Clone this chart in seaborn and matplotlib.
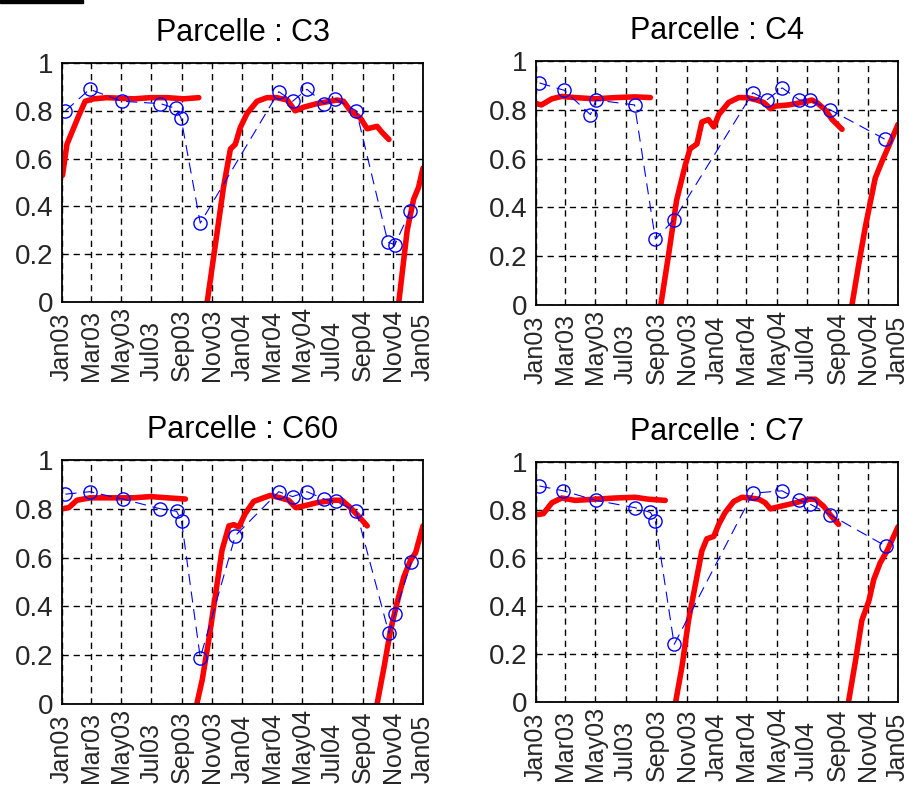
import numpy as np
import pandas as pd
import matplotlib
matplotlib.use('Agg')
import matplotlib.pyplot as plt
import seaborn as sns

sns.set_theme(style='white')
plt.rcParams['font.family'] = ['Liberation Sans', 'DejaVu Sans']

# x values are days since 1 Jan 2003
start = pd.Timestamp('2003-01-01')
end = pd.Timestamp('2005-01-01')
tick_dates = pd.to_datetime(['2003-01-01', '2003-03-01', '2003-05-01', '2003-07-01',
                             '2003-09-01', '2003-11-01', '2004-01-01', '2004-03-01',
                             '2004-05-01', '2004-07-01', '2004-09-01', '2004-11-01',
                             '2005-01-01'])
tick_labels = ['Jan03', 'Mar03', 'May03', 'Jul03', 'Sep03', 'Nov03', 'Jan04',
               'Mar04', 'May04', 'Jul04', 'Sep04', 'Nov04', 'Jan05']
ytick_vals = [0, 0.2, 0.4, 0.6, 0.8, 1]
ytick_labels = ['0', '0.2', '0.4', '0.6', '0.8', '1']

# Parcelle C3
c3_obs_days = [7, 56, 121, 199, 231, 241, 280, 439, 467, 496, 531, 553, 596, 660, 674, 705]
c3_obs_vals = [0.80, 0.89, 0.84, 0.83, 0.81, 0.77, 0.33, 0.88, 0.84, 0.89, 0.83, 0.85,
               0.80, 0.25, 0.24, 0.38]
c3_sim_days = [[1, 10, 20, 34, 47, 64, 91, 145, 179, 213, 246, 277],
               [294, 314, 327, 341, 351, 361, 375, 395, 415, 435, 456, 472, 489, 516,
                543, 557, 570, 584, 604, 618, 638, 648, 662],
               [682, 699, 712, 722, 731]]
c3_sim_vals = [[0.53, 0.66, 0.71, 0.78, 0.84, 0.85, 0.855, 0.85, 0.855, 0.855, 0.85, 0.855],
               [0.0, 0.29, 0.48, 0.64, 0.66, 0.73, 0.79, 0.84, 0.855, 0.855, 0.845, 0.80,
                0.815, 0.83, 0.84, 0.845, 0.84, 0.80, 0.77, 0.725, 0.735, 0.71, 0.68],
               [0.0, 0.30, 0.43, 0.48, 0.56]]

# Parcelle C4
c4_obs_days = [7, 57, 110, 121, 199, 241, 279, 438, 466, 497, 532, 553, 594, 704]
c4_obs_vals = [0.91, 0.88, 0.78, 0.84, 0.82, 0.27, 0.35, 0.87, 0.84, 0.89, 0.84, 0.84,
               0.80, 0.68]
c4_sim_days = [[1, 11, 32, 52, 79, 119, 160, 200, 231],
               [252, 268, 284, 301, 311, 325, 335, 348, 359, 369, 389, 409, 426, 446,
                460, 473, 483, 510, 537, 557, 567, 584, 598, 618],
               [638, 652, 665, 675, 685, 699, 712, 731]]
c4_sim_vals = [[0.825, 0.82, 0.845, 0.855, 0.85, 0.845, 0.85, 0.853, 0.85],
               [0.0, 0.21, 0.43, 0.57, 0.64, 0.66, 0.75, 0.76, 0.73, 0.78, 0.83, 0.85,
                0.85, 0.84, 0.83, 0.805, 0.815, 0.82, 0.83, 0.84, 0.83, 0.80, 0.76, 0.72],
               [0.0, 0.17, 0.32, 0.42, 0.52, 0.59, 0.65, 0.74]]

# Parcelle C60
c60_obs_days = [7, 56, 123, 199, 232, 242, 280, 351, 439, 467, 496, 531, 554, 596, 662,
                674, 707]
c60_obs_vals = [0.86, 0.87, 0.84, 0.80, 0.79, 0.75, 0.19, 0.69, 0.87, 0.85, 0.87, 0.84,
                0.83, 0.79, 0.29, 0.37, 0.58]
c60_sim_days = [[1, 14, 30, 57, 91, 145, 179, 213, 250],
                [273, 284, 297, 311, 324, 338, 348, 358, 371, 388, 408, 422, 442, 459,
                 473, 486, 516, 550, 567, 581, 598, 618],
                [638, 652, 665, 678, 692, 706, 716, 731]]
c60_sim_vals = [[0.80, 0.805, 0.835, 0.845, 0.845, 0.845, 0.85, 0.845, 0.84],
                [0.0, 0.10, 0.26, 0.45, 0.63, 0.73, 0.735, 0.725, 0.78, 0.83, 0.845, 0.855,
                 0.845, 0.835, 0.805, 0.81, 0.825, 0.835, 0.835, 0.81, 0.775, 0.73],
                [0.0, 0.15, 0.30, 0.41, 0.52, 0.59, 0.62, 0.73]]

# Parcelle C7
c7_obs_days = [7, 55, 121, 199, 231, 241, 279, 438, 497, 532, 553, 594, 706]
c7_obs_vals = [0.90, 0.88, 0.84, 0.81, 0.79, 0.755, 0.24, 0.87, 0.88, 0.84, 0.825, 0.78,
               0.65]
c7_sim_days = [[1, 15, 32, 52, 79, 119, 160, 200, 227, 261],
               [282, 295, 308, 321, 335, 345, 359, 369, 382, 399, 416, 433, 450, 463,
                473, 493, 524, 551, 564, 581, 594, 611],
               [631, 645, 658, 672, 682, 695, 709, 731]]
c7_sim_vals = [[0.78, 0.785, 0.83, 0.85, 0.84, 0.845, 0.85, 0.853, 0.845, 0.84],
               [0.0, 0.15, 0.34, 0.48, 0.63, 0.68, 0.69, 0.74, 0.79, 0.835, 0.853, 0.85,
                0.845, 0.83, 0.805, 0.815, 0.83, 0.845, 0.845, 0.815, 0.78, 0.74],
               [0.0, 0.17, 0.34, 0.42, 0.51, 0.58, 0.63, 0.73]]


def draw_panel(ax, title, obs_days, obs_vals, sim_days, sim_vals):
    parts = []
    for k, (d, v) in enumerate(zip(sim_days, sim_vals)):
        parts.append(pd.DataFrame({'date': start + pd.to_timedelta(d, unit='D'),
                                   'ndvi': v, 'seg': k}))
    sim = pd.concat(parts, ignore_index=True)
    obs = pd.DataFrame({'date': start + pd.to_timedelta(obs_days, unit='D'),
                        'ndvi': obs_vals})

    sns.lineplot(data=sim, x='date', y='ndvi', units='seg', estimator=None,
                 color='red', lw=4.0, ax=ax)
    sns.lineplot(data=obs, x='date', y='ndvi', color='blue', lw=0.8,
                 linestyle=(0, (10, 6)), marker='o', markersize=9.5,
                 markerfacecolor='none', markeredgecolor='blue',
                 markeredgewidth=1.0, errorbar=None, ax=ax)

    ax.set_xlim(start, end)
    ax.set_ylim(0, 1)
    ax.set_yticks(ytick_vals)
    ax.set_yticklabels(ytick_labels, fontsize=20)
    ax.set_xticks(tick_dates)
    ax.set_xticklabels(tick_labels, rotation=90, rotation_mode='anchor',
                       ha='left', va='center', fontsize=18)
    ax.tick_params(axis='x', pad=57, direction='in', length=3, color='black')
    ax.tick_params(axis='y', pad=6, direction='in', length=3, color='black')
    ax.grid(True, color='black', linestyle=(0, (4.5, 3.5)), linewidth=1.0)
    for s in ax.spines.values():
        s.set_color('black')
        s.set_linewidth(1.3)
    ax.set_xlabel('')
    ax.set_ylabel('')
    ax.set_title(title, fontsize=22, pad=16, color='black')


fig = plt.figure(figsize=(9.09, 7.87), dpi=100)
W, H = 909, 787

def axes_px(x0, y0, x1, y1):
    return fig.add_axes([x0 / W, 1 - y1 / H, (x1 - x0) / W, (y1 - y0) / H])

ax1 = axes_px(62, 63, 423, 302)
ax2 = axes_px(536, 61, 898, 305)
ax3 = axes_px(62, 460, 423, 704)
ax4 = axes_px(536, 462, 898, 702)

draw_panel(ax1, 'Parcelle : C3', c3_obs_days, c3_obs_vals, c3_sim_days, c3_sim_vals)
draw_panel(ax2, 'Parcelle : C4', c4_obs_days, c4_obs_vals, c4_sim_days, c4_sim_vals)
draw_panel(ax3, 'Parcelle : C60', c60_obs_days, c60_obs_vals, c60_sim_days, c60_sim_vals)
draw_panel(ax4, 'Parcelle : C7', c7_obs_days, c7_obs_vals, c7_sim_days, c7_sim_vals)

# small black bar in the top-left corner of the original figure
fig.add_artist(plt.Rectangle((0, 1 - 3 / H), 83 / W, 3 / H, transform=fig.transFigure,
                             color='black'))

fig.savefig('out.png', dpi=100)
